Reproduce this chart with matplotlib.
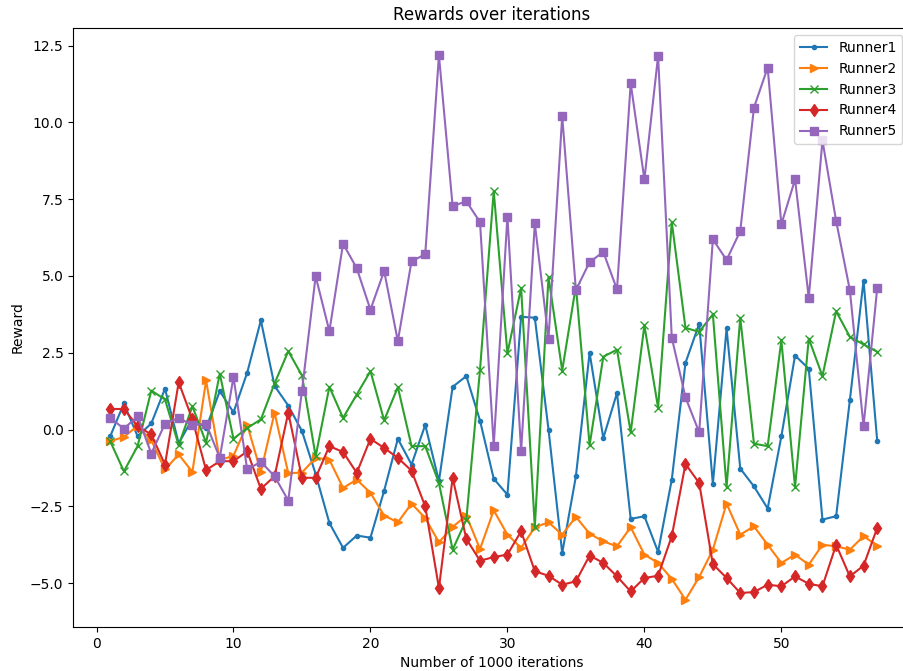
import numpy as np
import matplotlib
matplotlib.use("Agg")
import matplotlib.pyplot as plt

# rewards logged every 1000 iterations for each runner
iters = np.arange(1, 58)

runner1 = [-0.22, 0.85, -0.22, 0.2, 1.33, -0.45, 0.35, 0.05, 1.25, 0.56,
           1.85, 3.55, 1.42, 0.78, -0.05, -1.45, -3.04, -3.85, -3.45, -3.52,
           -1.99, -0.3, -1.14, 0.15, -1.68, 1.39, 1.74, 0.29, -1.6, -2.12,
           3.67, 3.64, 0.0, -4.02, -1.52, 2.5, -0.28, 1.19, -2.91, -2.82,
           -3.98, -1.63, 2.17, 3.44, -1.77, 3.29, -1.27, -1.85, -2.57, -0.22,
           2.41, 1.98, -2.93, -2.82, 0.95, 4.85, -0.38]
runner2 = [-0.38, -0.24, 0.12, -0.35, -1.3, -0.81, -1.38, 1.6, -1.0, -0.85,
           0.16, -1.38, 0.55, -1.42, -1.4, -0.92, -0.98, -1.9, -1.63, -2.06,
           -2.8, -3.02, -2.41, -2.88, -3.67, -3.17, -2.8, -3.89, -2.63, -3.42,
           -3.85, -3.18, -3.02, -3.42, -2.84, -3.39, -3.64, -3.8, -3.18, -4.07,
           -4.34, -4.86, -5.54, -4.8, -3.91, -2.41, -3.42, -3.15, -3.75, -4.34,
           -4.07, -4.4, -3.75, -3.8, -3.91, -3.47, -3.78]
runner3 = [-0.38, -1.36, -0.54, 1.27, 0.98, -0.51, 0.76, -0.43, 1.82, -0.3,
           0.05, 0.33, 1.5, 2.55, 1.76, -0.87, 1.39, 0.38, 1.14, 1.9,
           0.3, 1.38, -0.54, -0.54, -1.74, -3.91, -2.93, 1.95, 7.76, 2.48,
           4.61, -3.18, 4.97, 1.92, 4.67, -0.51, 2.37, 2.6, -0.09, 3.39,
           0.71, 6.75, 3.31, 3.18, 3.75, -1.87, 3.64, -0.46, -0.54, 2.9,
           -1.87, 2.96, 1.74, 3.85, 3.02, 2.77, 2.53]
runner4 = [0.67, 0.67, 0.11, -0.16, -1.14, 1.54, 0.33, -1.32, -1.03, -1.03,
           -0.71, -1.93, -1.52, 0.55, -1.57, -1.57, -0.54, -0.73, -1.41, -0.3,
           -0.6, -0.92, -1.34, -2.5, -5.16, -1.57, -3.56, -4.27, -4.15, -4.07,
           -3.31, -4.61, -4.76, -5.05, -4.94, -4.1, -4.34, -4.78, -5.27, -4.83,
           -4.76, -3.47, -1.12, -1.74, -4.38, -4.83, -5.32, -5.29, -5.05, -5.1,
           -4.78, -5.02, -5.1, -3.75, -4.78, -4.43, -3.2]
runner5 = [0.38, 0.03, 0.43, -0.78, 0.19, 0.38, 0.14, 0.19, -0.92, 1.71,
           -1.3, -1.05, -1.52, -2.31, 1.27, 4.99, 3.2, 6.05, 5.25, 3.9,
           5.16, 2.88, 5.48, 5.7, 12.18, 7.27, 7.43, 6.75, -0.52, 6.93,
           -0.7, 6.71, 2.95, 10.2, 4.54, 5.45, 5.78, 4.56, 11.27, 8.14,
           12.16, 2.99, 1.05, -0.09, 6.19, 5.52, 6.46, 10.48, 11.78, 6.68,
           8.14, 4.29, 9.41, 6.79, 4.54, 0.11, 4.61]

labels = ["Runner1", "Runner2", "Runner3", "Runner4", "Runner5"]
markers = [".", ">", "x", "d", "s"]

fig = plt.figure(figsize=(9.04, 6.71), dpi=100)
# axes run a little past the right edge of the canvas
ax = fig.add_axes([0.081, 0.0656, 0.925, 0.8925])

for vals, lab, m in zip([runner1, runner2, runner3, runner4, runner5], labels, markers):
    ax.plot(iters, vals, marker=m, label=lab)

ax.set_xlim(-1.7, 59.35)
ax.set_title("Rewards over iterations")
ax.set_xlabel("Number of 1000 iterations")
ax.set_ylabel("Reward")
ax.legend(loc="upper right")

fig.savefig("out.png", dpi=100)
